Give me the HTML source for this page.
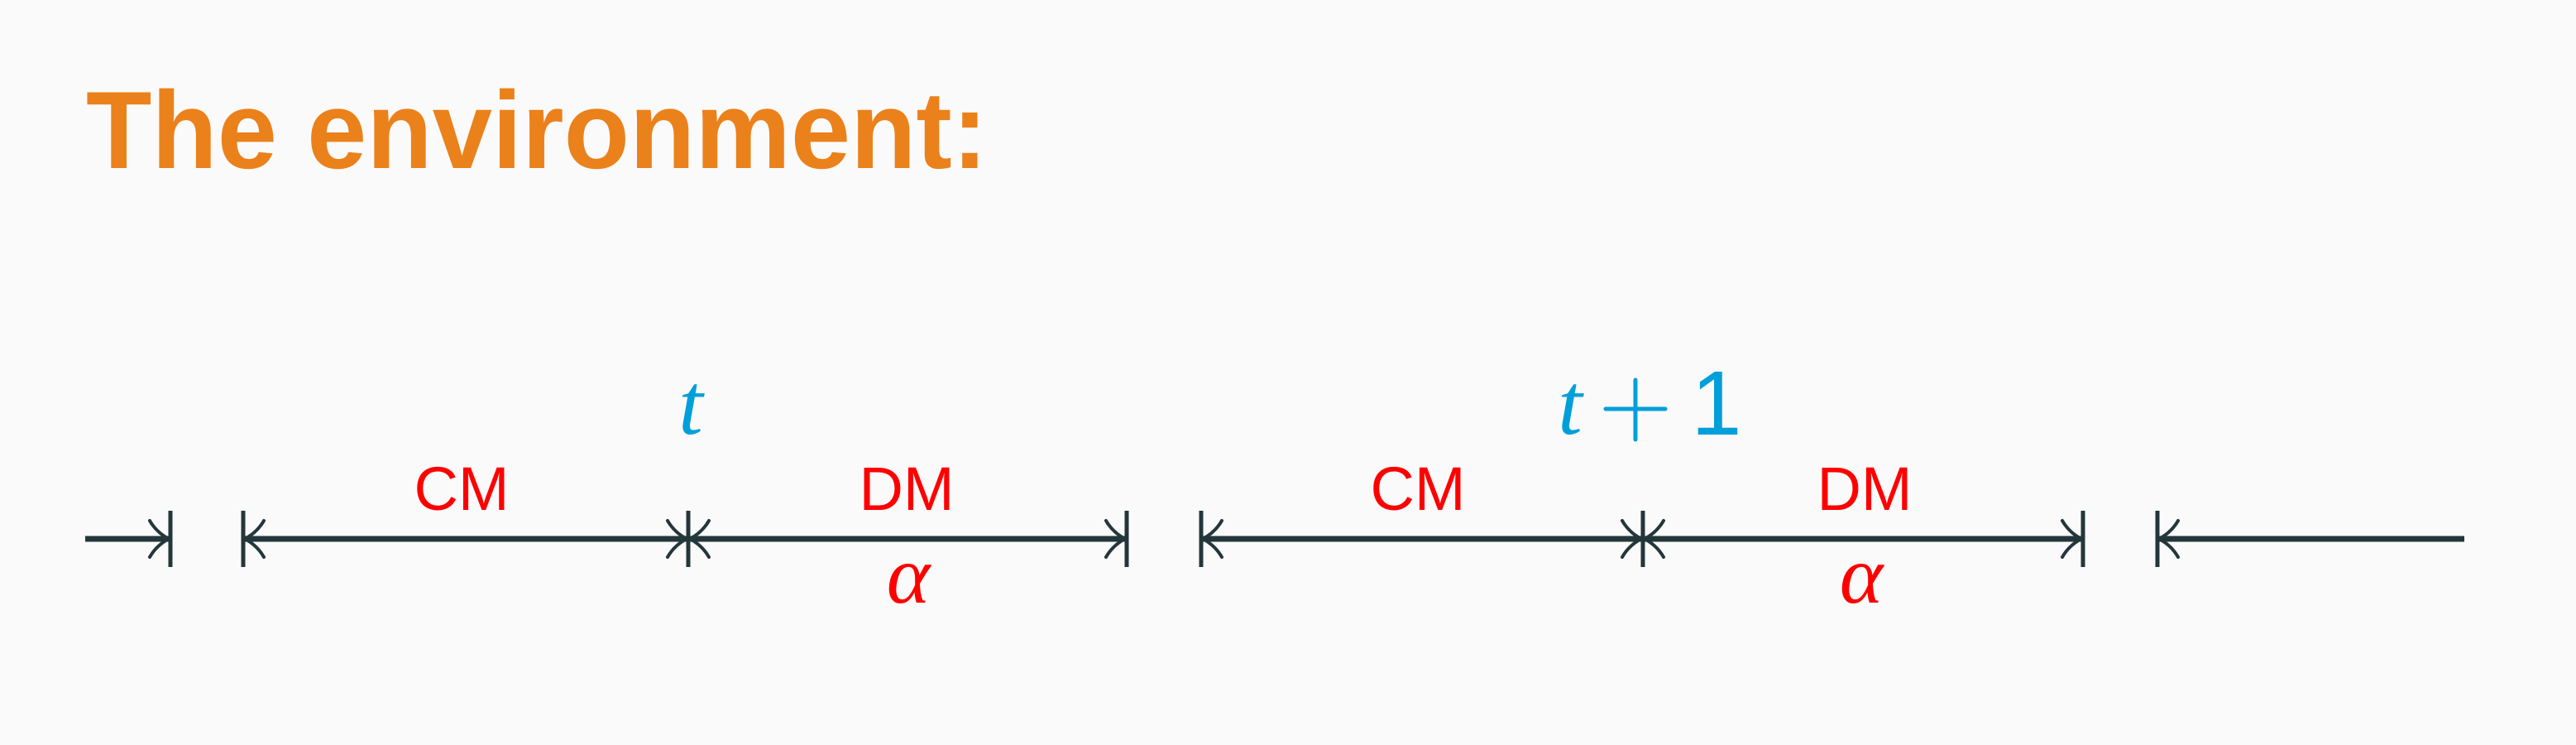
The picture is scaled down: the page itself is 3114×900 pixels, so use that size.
<!DOCTYPE html>
<html><head><meta charset="utf-8"><style>
html,body{margin:0;padding:0;background:#fafafa;}
svg{display:block;}
</style></head><body>
<svg width="3114" height="900" viewBox="0 0 3114 900" xmlns="http://www.w3.org/2000/svg">
<rect width="3114" height="900" fill="#fafafa"/>
<text x="104" y="203" font-family="Liberation Sans, sans-serif" font-weight="bold" font-size="133" fill="#eb811b" textLength="1090" lengthAdjust="spacingAndGlyphs">The environment:</text>

<g stroke="#23373b" fill="none" stroke-linecap="butt">
  <g stroke-width="7">
    <line x1="103" y1="651" x2="204" y2="651"/>
    <line x1="296" y1="651" x2="830" y2="651"/>
    <line x1="834" y1="651" x2="1360" y2="651"/>
    <line x1="1454" y1="651" x2="1984" y2="651"/>
    <line x1="1988" y1="651" x2="2516" y2="651"/>
    <line x1="2610" y1="651" x2="2979" y2="651"/>
  </g>
  <g stroke-width="5">
    <line x1="206" y1="617" x2="206" y2="685"/>
    <line x1="294" y1="617" x2="294" y2="685"/>
    <line x1="832" y1="617" x2="832" y2="685"/>
    <line x1="1362" y1="617" x2="1362" y2="685"/>
    <line x1="1452" y1="617" x2="1452" y2="685"/>
    <line x1="1986" y1="617" x2="1986" y2="685"/>
    <line x1="2518" y1="617" x2="2518" y2="685"/>
    <line x1="2608" y1="617" x2="2608" y2="685"/>
  </g>
  <g stroke-width="4" stroke-linecap="round">
    <!-- right-pointing heads -->
    <path d="M181,629 Q189,643 204,651 Q189,659 181,673"/>
    <path d="M807,629 Q815,643 830,651 Q815,659 807,673"/>
    <path d="M1337,629 Q1345,643 1360,651 Q1345,659 1337,673"/>
    <path d="M1961,629 Q1969,643 1984,651 Q1969,659 1961,673"/>
    <path d="M2493,629 Q2501,643 2516,651 Q2501,659 2493,673"/>
    <!-- left-pointing heads -->
    <path d="M319,629 Q311,643 296,651 Q311,659 319,673"/>
    <path d="M857,629 Q849,643 834,651 Q849,659 857,673"/>
    <path d="M1477,629 Q1469,643 1454,651 Q1469,659 1477,673"/>
    <path d="M2011,629 Q2003,643 1988,651 Q2003,659 2011,673"/>
    <path d="M2633,629 Q2625,643 2610,651 Q2625,659 2633,673"/>
  </g>
</g>

<g font-family="Liberation Sans, sans-serif" font-size="74" fill="#ff0000" text-anchor="middle">
  <text x="558" y="616">CM</text>
  <text x="1096" y="616">DM</text>
  <text x="1714" y="616">CM</text>
  <text x="2254" y="616">DM</text>
</g>
<g font-family="Liberation Serif, serif" font-style="italic" font-size="100" fill="#ff0000" text-anchor="middle">
  <text x="1098" y="728">α</text>
  <text x="2250" y="728">α</text>
</g>
<g font-family="Liberation Serif, serif" font-style="italic" font-size="106" fill="#009fda" text-anchor="middle">
  <text x="835" y="524">t</text>
  <text x="1898" y="524">t</text>
</g>
<g stroke="#009fda" stroke-width="5" stroke-linecap="round">
  <line x1="1941" y1="494" x2="2013" y2="494"/>
  <line x1="1977" y1="459" x2="1977" y2="531"/>
</g>
<text x="2075" y="525" font-family="Liberation Sans, sans-serif" font-size="110" fill="#009fda" text-anchor="middle">1</text>
</svg>
</body></html>
